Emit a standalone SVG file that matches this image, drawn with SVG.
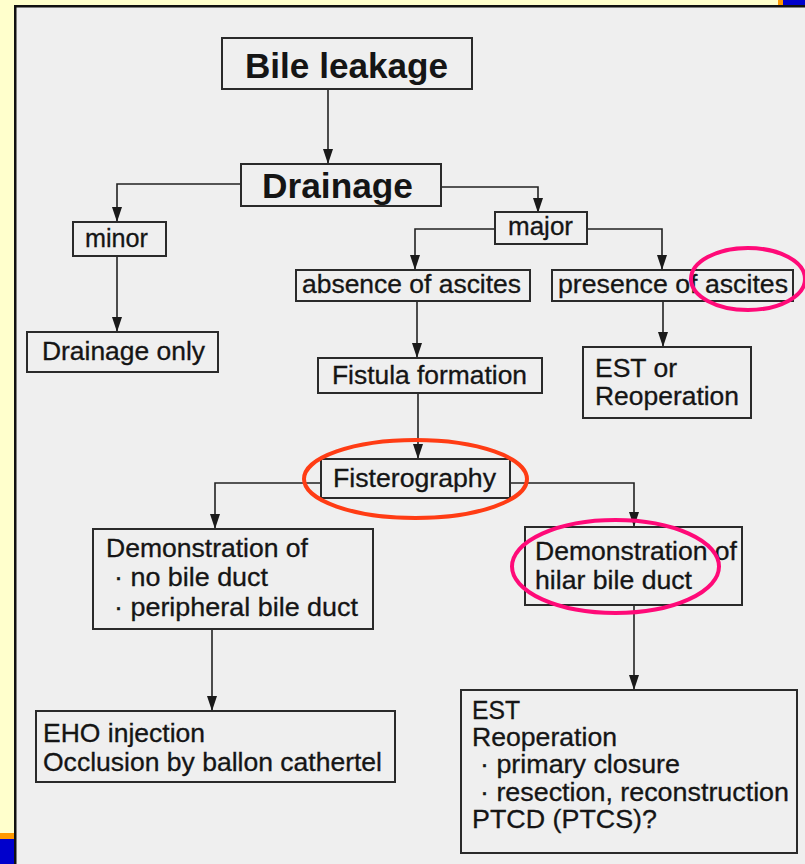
<svg xmlns="http://www.w3.org/2000/svg" width="805" height="864" viewBox="0 0 805 864">
<style>
.box{fill:none;stroke:#2a2a2a;stroke-width:2}
.t{font-family:"Liberation Sans",Arial,sans-serif;font-size:25px;fill:#151515;stroke:#151515;stroke-width:0.3}
.b{font-family:"Liberation Sans",Arial,sans-serif;font-size:35px;font-weight:bold;fill:#151515}
.c{fill:none;stroke:#222;stroke-width:1.6}
.ring{fill:none;stroke-width:4}
</style>
<defs>
<marker id="ah" markerUnits="userSpaceOnUse" markerWidth="15" markerHeight="10" refX="15" refY="5" orient="auto">
<path d="M0,0 L15,5 L0,10 z" fill="#1a1a1a"/>
</marker>
</defs>
<rect width="805" height="864" fill="#ffffcc"/>
<rect x="16" y="7" width="789" height="857" fill="#efefef"/>
<rect x="14" y="5" width="2.5" height="859" fill="#111"/>
<rect x="14" y="5" width="791" height="2.5" fill="#111"/>
<rect x="778" y="0" width="5" height="5" fill="#ff9900"/>
<rect x="783" y="0" width="22" height="5" fill="#0000cc"/>
<rect x="0" y="833" width="14" height="6" fill="#ff9900"/>
<rect x="0" y="839" width="14" height="25" fill="#0000cc"/>

<g id="connectors">
<path class="c" d="M328,89 V164" marker-end="url(#ah)"/>
<path class="c" d="M241,184 H117 V222" marker-end="url(#ah)"/>
<path class="c" d="M441,187 H538 V213" marker-end="url(#ah)"/>
<path class="c" d="M117,256 V332" marker-end="url(#ah)"/>
<path class="c" d="M495,229 H415 V270" marker-end="url(#ah)"/>
<path class="c" d="M587,229 H662 V270" marker-end="url(#ah)"/>
<path class="c" d="M417,301 V358" marker-end="url(#ah)"/>
<path class="c" d="M663,301 V347" marker-end="url(#ah)"/>
<path class="c" d="M418,393 V459" marker-end="url(#ah)"/>
<path class="c" d="M321,483 H215 V529" marker-end="url(#ah)"/>
<path class="c" d="M510,483 H634 V527" marker-end="url(#ah)"/>
<path class="c" d="M212,629 V711" marker-end="url(#ah)"/>
<path class="c" d="M634,605 V690" marker-end="url(#ah)"/>
</g>

<g id="bile-leakage">
<rect class="box" x="222" y="38" width="250" height="51"/>
<text class="b" x="245" y="78" textLength="203" lengthAdjust="spacingAndGlyphs">Bile leakage</text>
</g>
<g id="drainage">
<rect class="box" x="241" y="164" width="200" height="42"/>
<text class="b" x="262" y="198" textLength="151" lengthAdjust="spacingAndGlyphs">Drainage</text>
</g>
<g id="minor">
<rect class="box" x="73" y="222" width="93" height="34"/>
<text class="t" x="85" y="247" textLength="63" lengthAdjust="spacingAndGlyphs">minor</text>
</g>
<g id="drainage-only">
<rect class="box" x="27" y="332" width="191" height="40"/>
<text class="t" x="42" y="360" textLength="163" lengthAdjust="spacingAndGlyphs">Drainage only</text>
</g>
<g id="major">
<rect class="box" x="495" y="212" width="92" height="32"/>
<text class="t" x="508" y="235" textLength="65" lengthAdjust="spacingAndGlyphs">major</text>
</g>
<g id="absence">
<rect class="box" x="296" y="270" width="234" height="31"/>
<text class="t" x="302" y="293" textLength="219" lengthAdjust="spacingAndGlyphs">absence of ascites</text>
</g>
<g id="presence">
<rect class="box" x="552" y="270" width="241" height="31"/>
<text class="t" x="558" y="293" textLength="230" lengthAdjust="spacingAndGlyphs">presence of ascites</text>
</g>
<g id="fistula">
<rect class="box" x="318" y="358" width="224" height="35"/>
<text class="t" x="332" y="384" textLength="195" lengthAdjust="spacingAndGlyphs">Fistula formation</text>
</g>
<g id="est-or">
<rect class="box" x="583" y="347" width="168" height="71"/>
<text class="t" x="595" y="377" textLength="82" lengthAdjust="spacingAndGlyphs">EST or</text>
<text class="t" x="595" y="405" textLength="144" lengthAdjust="spacingAndGlyphs">Reoperation</text>
</g>
<g id="fisterography">
<rect class="box" x="321" y="459" width="189" height="39"/>
<text class="t" x="333" y="487" textLength="163" lengthAdjust="spacingAndGlyphs">Fisterography</text>
</g>
<g id="demo-left">
<rect class="box" x="93" y="529" width="280" height="100"/>
<text class="t" x="106" y="557" textLength="202" lengthAdjust="spacingAndGlyphs">Demonstration of</text>
<text class="t" x="114" y="586" textLength="154" lengthAdjust="spacingAndGlyphs">· no bile duct</text>
<text class="t" x="114" y="616" textLength="244" lengthAdjust="spacingAndGlyphs">· peripheral bile duct</text>
</g>
<g id="eho">
<rect class="box" x="36" y="711" width="359" height="71"/>
<text class="t" x="43" y="742" textLength="162" lengthAdjust="spacingAndGlyphs">EHO injection</text>
<text class="t" x="43" y="771" textLength="339" lengthAdjust="spacingAndGlyphs">Occlusion by ballon cathertel</text>
</g>
<g id="demo-right">
<rect class="box" x="525" y="527" width="217" height="78"/>
<text class="t" x="535" y="560" textLength="202" lengthAdjust="spacingAndGlyphs">Demonstration of</text>
<text class="t" x="535" y="589" textLength="157" lengthAdjust="spacingAndGlyphs">hilar bile duct</text>
</g>
<g id="est-box">
<rect class="box" x="461" y="690" width="336" height="163"/>
<text class="t" x="472" y="719" textLength="48" lengthAdjust="spacingAndGlyphs">EST</text>
<text class="t" x="472" y="746" textLength="145" lengthAdjust="spacingAndGlyphs">Reoperation</text>
<text class="t" x="480" y="773" textLength="200" lengthAdjust="spacingAndGlyphs">· primary closure</text>
<text class="t" x="480" y="801" textLength="309" lengthAdjust="spacingAndGlyphs">· resection, reconstruction</text>
<text class="t" x="472" y="828" textLength="185" lengthAdjust="spacingAndGlyphs">PTCD (PTCS)?</text>
</g>

<g id="highlights">
<ellipse class="ring" cx="415.5" cy="479" rx="111.5" ry="39" stroke="#ff3c14"/>
<ellipse class="ring" cx="748" cy="279" rx="57" ry="31" stroke="#ff0a78"/>
<ellipse class="ring" cx="615.5" cy="566.5" rx="103.5" ry="46.5" stroke="#ff0a78"/>
</g>
</svg>
